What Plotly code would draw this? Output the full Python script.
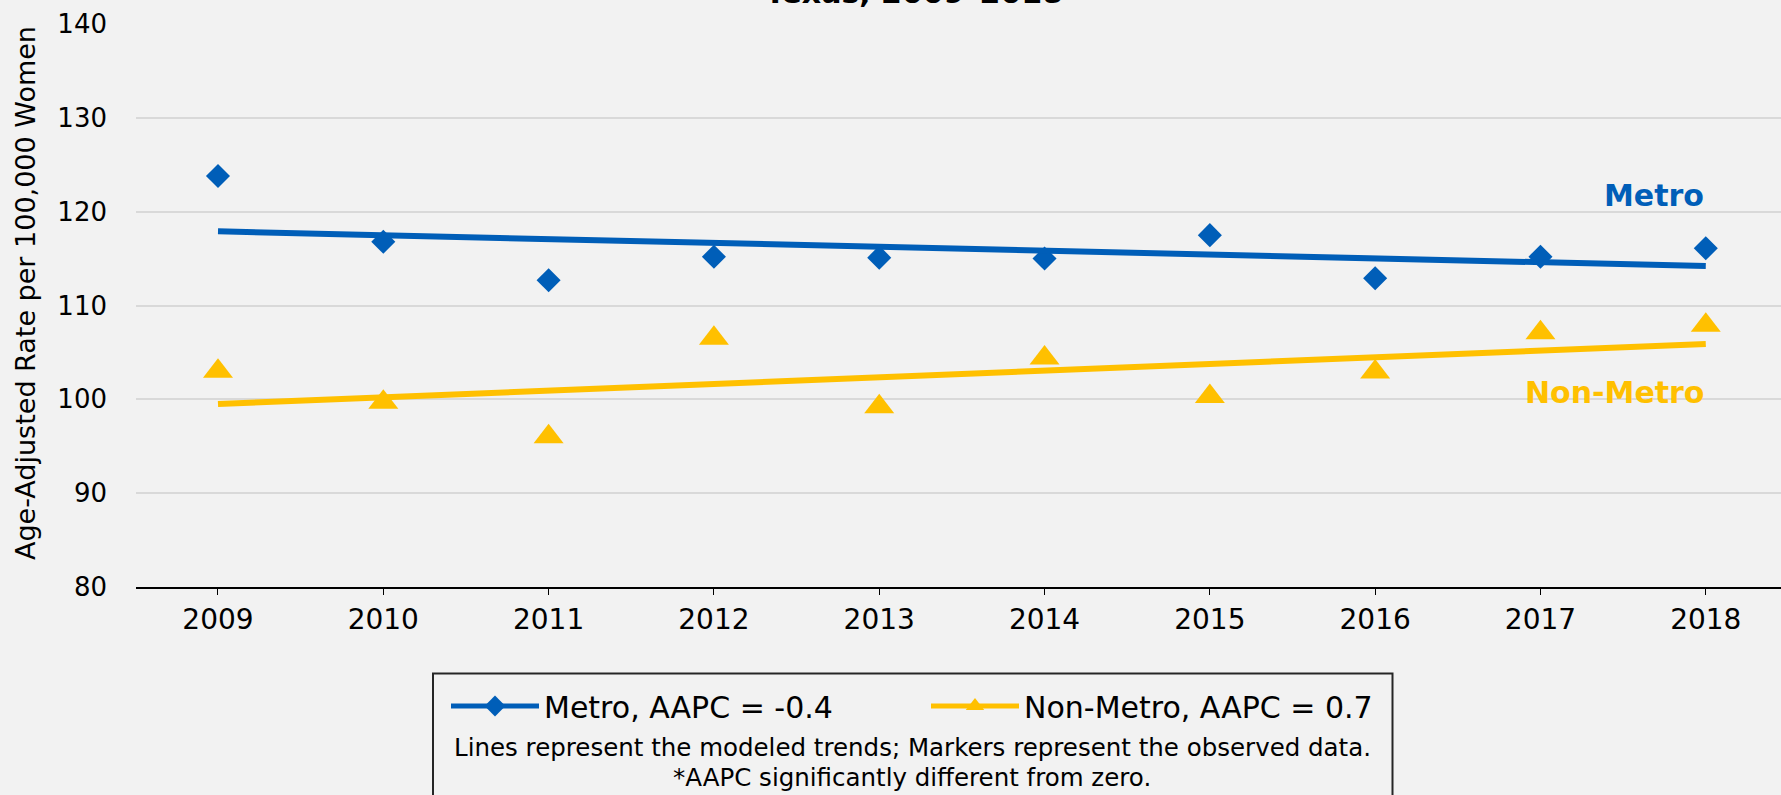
import plotly.graph_objects as go

# ---- data ----
years = [2009, 2010, 2011, 2012, 2013, 2014, 2015, 2016, 2017, 2018]
metro_observed = [123.8, 116.8, 112.7, 115.2, 115.1, 115.0, 117.5, 112.9, 115.2, 116.1]
nonmetro_observed = [103.0, 99.7, 96.0, 106.5, 99.2, 104.4, 100.3, 102.9, 107.1, 107.9]
trend_years = [2009, 2018]
metro_trend = [117.9, 114.2]
nonmetro_trend = [99.5, 105.9]

metro_name = "Metro, AAPC = -0.4"
nonmetro_name = "Non-Metro, AAPC = 0.7"
title_text = "Texas, 2009–2018"
y_title = "Age-Adjusted Rate per 100,000 Women"
note1 = "Lines represent the modeled trends; Markers represent the observed data."
note2 = "*AAPC significantly different from zero."
y_ticks = [80, 90, 100, 110, 120, 130, 140]

BLUE = "#005EB8"
GOLD = "#FFC000"
FONT = "Verdana, DejaVu Sans, sans-serif"
BG = "#F2F2F2"

fig = go.Figure()

# observed markers
fig.add_trace(go.Scatter(x=years, y=metro_observed, mode="markers",
                         marker=dict(symbol="diamond", size=18.5, color=BLUE),
                         showlegend=False, hoverinfo="x+y"))
fig.add_trace(go.Scatter(x=years, y=nonmetro_observed, mode="markers",
                         marker=dict(symbol="triangle-up", size=26, color=GOLD),
                         showlegend=False, hoverinfo="x+y"))
# modeled trends
fig.add_trace(go.Scatter(x=trend_years, y=metro_trend, mode="lines",
                         line=dict(color=BLUE, width=6), showlegend=False))
fig.add_trace(go.Scatter(x=trend_years, y=nonmetro_trend, mode="lines",
                         line=dict(color=GOLD, width=6), showlegend=False))

# legend entries (line + marker)
fig.add_trace(go.Scatter(x=[None], y=[None], mode="lines+markers", name=metro_name,
                         line=dict(color=BLUE, width=5),
                         marker=dict(symbol="diamond", size=17, color=BLUE)))
fig.add_trace(go.Scatter(x=[None], y=[None], mode="lines+markers", name=nonmetro_name,
                         line=dict(color=GOLD, width=5),
                         marker=dict(symbol="triangle-up", size=18, color=GOLD)))

H = 795
top, bottom = 24, 208
plot_h = H - top - bottom
L = 136
plot_w = 1781 - L


def py(pix):
    return (H - bottom - pix) / plot_h


def px(pix):
    return (pix - L) / plot_w


annotations = [
    dict(text="<b>Metro</b>", x=2018, y=121.7, xref="x", yref="y", xanchor="right",
         yanchor="middle", showarrow=False, font=dict(family=FONT, size=30, color=BLUE)),
    dict(text="<b>Non-Metro</b>", x=2018, y=100.7, xref="x", yref="y", xanchor="right",
         yanchor="middle", showarrow=False, font=dict(family=FONT, size=30, color=GOLD)),
    dict(text="<b>" + title_text + "</b>", x=px(914), y=py(12.5), xref="paper", yref="paper",
         xanchor="center", yanchor="bottom", showarrow=False,
         font=dict(family=FONT, size=30, color="#000000")),
    dict(text=y_title, x=px(25), y=py(293), xref="paper", yref="paper", textangle=-90,
         xanchor="center", yanchor="middle", showarrow=False,
         font=dict(family=FONT, size=27, color="#000000")),
    dict(text=note1, x=px(912), y=py(747), xref="paper", yref="paper",
         xanchor="center", yanchor="middle", showarrow=False,
         font=dict(family=FONT, size=24.5, color="#000000")),
    dict(text=note2, x=px(912), y=py(778), xref="paper", yref="paper",
         xanchor="center", yanchor="middle", showarrow=False,
         font=dict(family=FONT, size=24.5, color="#000000")),
]

shapes = [
    dict(type="rect", xref="paper", yref="paper", x0=px(433), x1=px(1392.5),
         y0=py(673.5), y1=py(830), line=dict(color="#262626", width=2),
         fillcolor="rgba(0,0,0,0)", layer="above"),
]

fig.update_layout(
    width=1781, height=795,
    margin=dict(l=L, r=0, t=top, b=bottom, pad=0),
    paper_bgcolor=BG, plot_bgcolor=BG,
    font=dict(family=FONT, color="#000000"),
    showlegend=True,
    legend=dict(orientation="h", x=px(446), xanchor="left", y=py(706), yanchor="middle",
                font=dict(family=FONT, size=30, color="#000000"),
                bgcolor="rgba(0,0,0,0)", borderwidth=0, itemwidth=88,
                entrywidth=377, entrywidthmode="pixels",
                traceorder="normal"),
    annotations=annotations,
    shapes=shapes,
    xaxis=dict(range=[2008.504, 2018.455], tickmode="array", tickvals=years,
               ticktext=[str(y) for y in years], showgrid=False, zeroline=False,
               showline=True, linecolor="#000000", linewidth=2,
               ticks="outside", ticklen=6, tickcolor="#000000", tickwidth=1,
               ticklabelstandoff=0,
               tickfont=dict(family=FONT, size=28, color="#000000")),
    yaxis=dict(range=[80, 140], tickvals=y_ticks, showgrid=True, gridcolor="#D9D9D9",
               gridwidth=2, zeroline=False, showline=False, ticks="",
               ticklabelstandoff=28,
               tickfont=dict(family=FONT, size=26, color="#000000")),
)

fig.write_html("out.html", config={"displayModeBar": False},
               post_script="document.body.style.margin='0';document.body.style.background='#F2F2F2';")
